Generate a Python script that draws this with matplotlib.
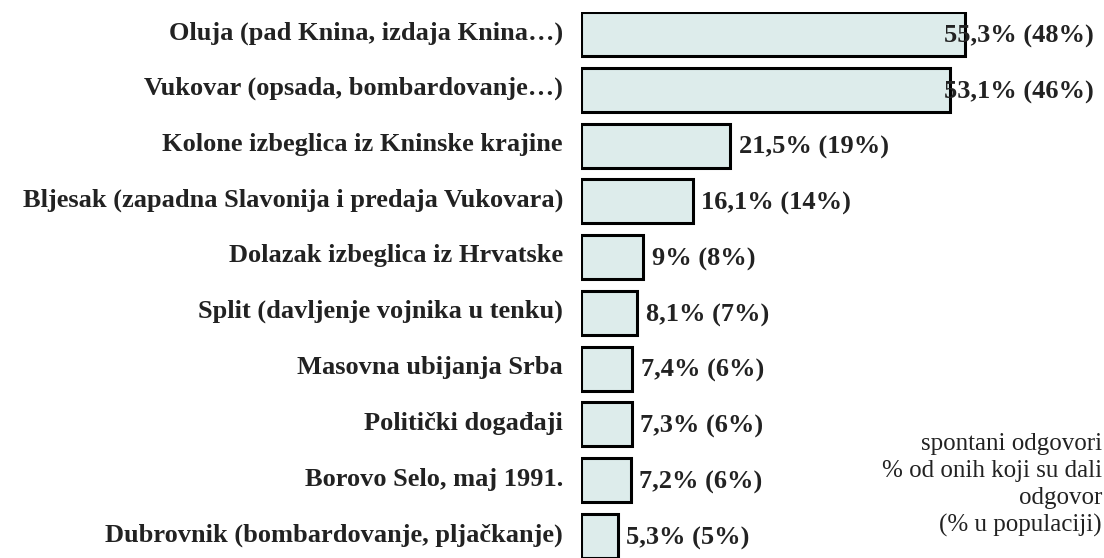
import matplotlib.pyplot as plt

# Spontaneous answers: share of those who answered (share of population)
categories = [
    "Oluja (pad Knina, izdaja Knina…)",
    "Vukovar (opsada, bombardovanje…)",
    "Kolone izbeglica iz Kninske krajine",
    "Bljesak (zapadna Slavonija i predaja Vukovara)",
    "Dolazak izbeglica iz Hrvatske",
    "Split (davljenje vojnika u tenku)",
    "Masovna ubijanja Srba",
    "Politički događaji",
    "Borovo Selo, maj 1991.",
    "Dubrovnik (bombardovanje, pljačkanje)",
]
answered = [55.3, 53.1, 21.5, 16.1, 9, 8.1, 7.4, 7.3, 7.2, 5.3]
population = [48, 46, 19, 14, 8, 7, 6, 6, 6, 5]
note_lines = ["spontani odgovori", "% od onih koji su dali", "odgovor", "(% u populaciji)"]

BAR_COLOR = "#ddeceb"
FONT = ["Liberation Serif", "DejaVu Serif"]

fig = plt.figure(figsize=(11.04, 5.58), dpi=100)
ax = fig.add_axes([581 / 1104, 0, 1 - 581 / 1104, 1 - 12 / 558])

ypos = list(range(len(categories)))
ax.barh(ypos, answered, height=0.79, color=BAR_COLOR, edgecolor="black", linewidth=2.2)

ax.set_ylim(len(categories) - 1 + 0.395, -0.395)
ax.set_xlim(0, (1104 - 581) / 6.94)
ax.axis("off")

for y, cat, a, p in zip(ypos, categories, answered, population):
    ax.text(-2.6, y - 0.02, cat, ha="right", va="center", fontsize=19,
            fontweight="bold", family=FONT, color="#222222")
    lab = f"{a:g}".replace(".", ",") + f"% ({p}%)"
    ax.text(min(a + 1.2, 52.3), y + 0.04, lab, ha="left", va="center",
            fontsize=19, fontweight="bold", family=FONT, color="#222222")

# note in the lower right corner
for i, line in enumerate(note_lines):
    fig.text(1102 / 1104, 1 - (444 + i * 27) / 558, line, ha="right", va="center",
             fontsize=18, family=FONT, color="#222222")

fig.savefig("out.png", dpi=100)
